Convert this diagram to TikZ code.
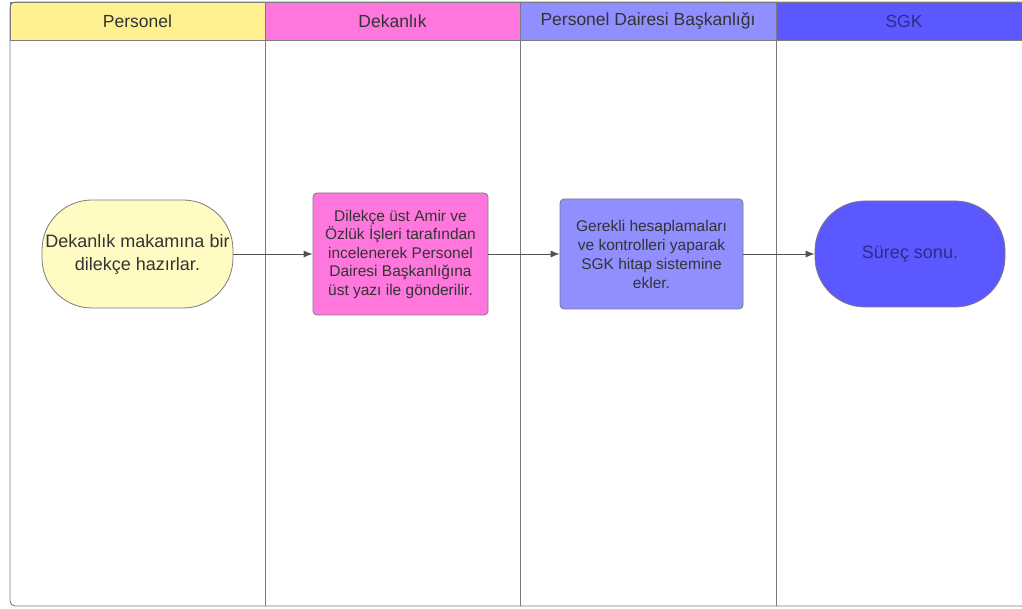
\documentclass[tikz,border=0pt]{standalone}
\usepackage{fontspec}
\setmainfont{Liberation Sans}
\usetikzlibrary{arrows.meta}
\definecolor{cfff18f}{RGB}{255,241,143}
\definecolor{cff77dd}{RGB}{255,119,221}
\definecolor{c8f8fff}{RGB}{143,143,255}
\definecolor{c5c58ff}{RGB}{92,88,255}
\definecolor{cfffbc2}{RGB}{255,251,194}
\definecolor{c333333}{RGB}{51,51,51}
\definecolor{c7a7a80}{RGB}{122,122,128}
\definecolor{c3a36a8}{RGB}{58,54,168}
\tikzset{lane/.style={draw=c7a7a80,line width=0.9pt},
flow/.style={draw=c333333!85,line width=0.8pt,-{Latex[length=9pt,width=7pt]}},
head/.style={draw=c7a7a80,line width=0.9pt,minimum height=38pt,inner sep=0pt,
text=c333333,font=\fontsize{17.5}{17.5}\selectfont}}

\begin{document}
\begin{tikzpicture}[x=1pt,y=-1pt]
\useasboundingbox (0,0) rectangle (1022,609);
\clip (0,0) rectangle (1022,609);

% swimlane headers
\node[head,fill=cfff18f,minimum width=255pt] (hpersonel) at (137.5,21) {Personel};
\node[head,fill=cff77dd,minimum width=255pt] (hdekanlik) at (392.5,21) {Dekanlık};
\node[head,fill=c8f8fff,minimum width=256pt] (hpdb) at (648,21) {Personel Dairesi Başkanlığı};
\node[head,fill=c5c58ff,minimum width=256pt,text=c3a36a8!80!black] (hsgk) at (904,21) {SGK};

% lanes
\draw[lane,rounded corners=5pt] (1040,2) -- (10,2) -- (10,606) -- (1040,606);
\draw[lane] (265,2) -- (265,606);
\draw[lane] (520,2) -- (520,606);
\draw[lane] (776,2) -- (776,606);

\begin{scope}[every node/.style={draw=c7a7a80,line width=0.8pt,inner sep=0pt,
align=center,text=c333333}]
\node[fill=cfffbc2,rounded corners=50pt,minimum width=191pt,minimum height=108pt,
font=\fontsize{18}{23}\selectfont] (dilekce) at (137.5,254)
{Dekanlık makamına bir\\dilekçe hazırlar.};
\node[fill=cff77dd,rounded corners=4pt,minimum width=175pt,minimum height=122pt,
font=\fontsize{15.5}{18.5}\selectfont] (inceleme) at (400.5,254)
{Dilekçe üst Amir ve\\Özlük İşleri tarafından\\incelenerek Personel\\Dairesi Başkanlığına\\üst yazı ile gönderilir.};
\node[fill=c8f8fff,rounded corners=4pt,minimum width=183pt,minimum height=110pt,
font=\fontsize{15.5}{19}\selectfont] (hesap) at (651.5,254)
{Gerekli hesaplamaları\\ve kontrolleri yaparak\\SGK hitap sistemine\\ekler.};
\node[fill=c5c58ff,rounded corners=50pt,minimum width=190pt,minimum height=106pt,
text=c3a36a8!80!black,font=\fontsize{18}{20}\selectfont] (son) at (910,254)
{Süreç sonu.};
\end{scope}

\path[flow] (dilekce) -- (inceleme);
\path[flow] (inceleme) -- (hesap);
\path[flow] (hesap) -- (son);

\end{tikzpicture}
\end{document}
